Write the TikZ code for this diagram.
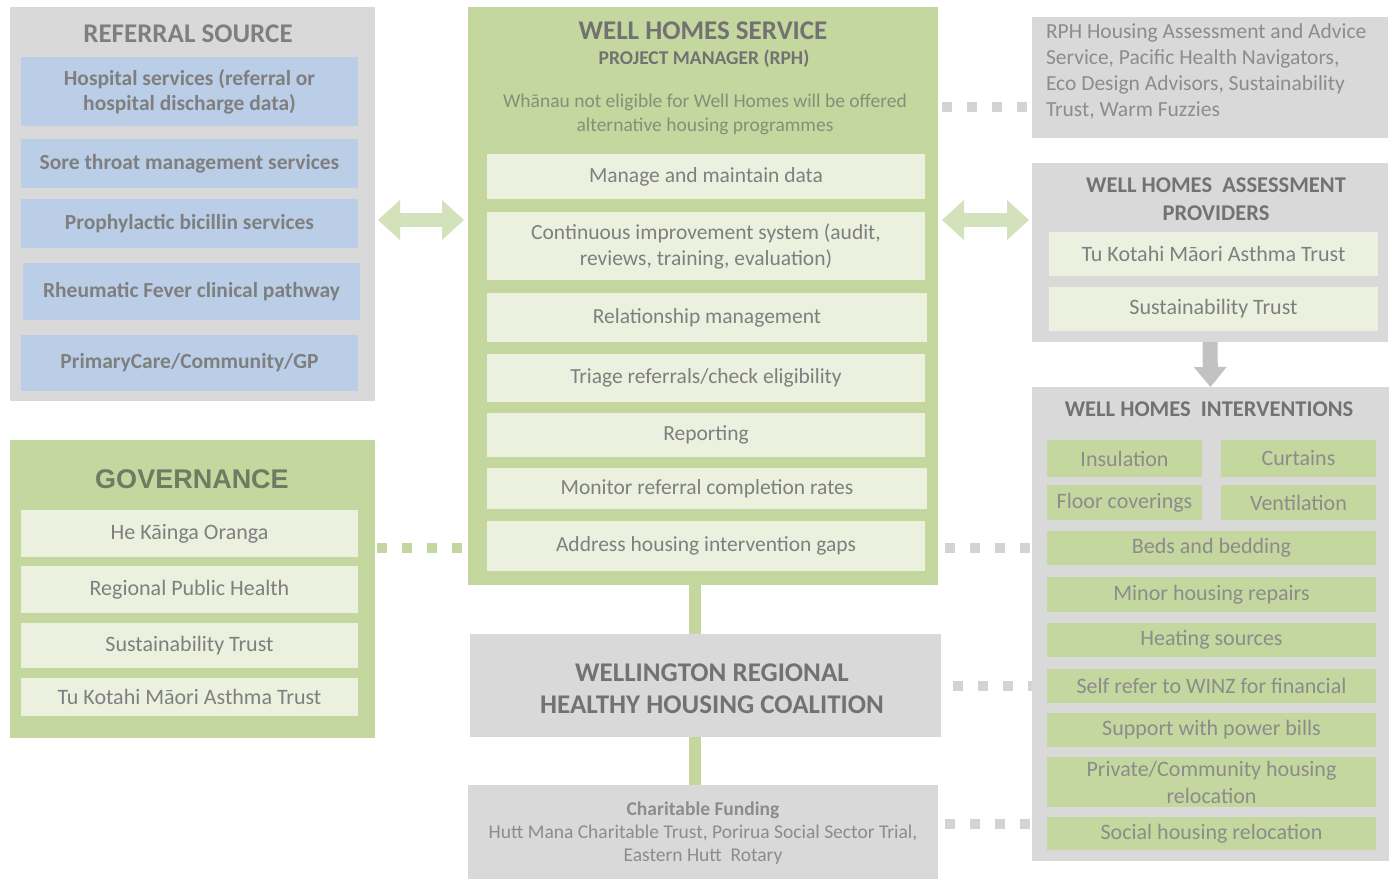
\documentclass[tikz,border=0pt]{standalone}
\usepackage{fontspec}
\setmainfont{Carlito}
\newfontfamily\arialfont{Liberation Sans}
\usetikzlibrary{arrows.meta}

\definecolor{boxgray}{HTML}{D9D9D9}
\definecolor{boxgreen}{HTML}{C4D79E}
\definecolor{palegreen}{HTML}{EBF1DE}
\definecolor{paleblue}{HTML}{BACEE7}
\definecolor{arrowgreen}{HTML}{D3E2BA}
\definecolor{arrowgray}{HTML}{C2C2C2}
\definecolor{txtgray}{HTML}{7F7F7F}
\definecolor{txtdark}{HTML}{727272}
\definecolor{txtlight}{HTML}{8C8C8C}
\definecolor{txtgreen}{HTML}{6F7B62}
\definecolor{dotgray}{HTML}{D3D3D3}

% place a rectangle by its top-left and bottom-right corners
\newcommand\placebox[7]{%
  \node[#2, anchor=north west, minimum width={(#5-#3)*1pt},
        minimum height={(#6-#4)*1pt}] (#1) at (#3,#4) {#7};}

\begin{document}
\begin{tikzpicture}[x=1pt, y=-1pt,
  base/.style={inner sep=0pt, outer sep=0pt, align=center, text=txtgray},
  graybox/.style={base, fill=boxgray},
  greenbox/.style={base, fill=boxgreen},
  paleitem/.style={base, fill=palegreen, font=\fontsize{21.5}{26}\selectfont},
  blueitem/.style={base, fill=paleblue, font=\bfseries\fontsize{21.5}{25}\selectfont},
  greenitem/.style={base, fill=boxgreen, text=txtlight, font=\fontsize{22}{27}\selectfont},
  bigtitle/.style={base, text=txtdark, font=\bfseries\fontsize{27}{32}\selectfont},
  subtitle/.style={base, text=txtdark, font=\bfseries\fontsize{22.5}{28}\selectfont},
  dblarrow/.style={draw=arrowgreen, line width=14pt,
    {Triangle[width=40pt,length=22pt,line width=0pt]}-{Triangle[width=40pt,length=22pt,line width=0pt]}},
  downarrow/.style={draw=arrowgray, line width=15pt,
    -{Triangle[width=33pt,length=20pt,line width=0pt]}},
  dotsq/.style={line width=10pt, dash pattern=on 10pt off 15pt},
  linkline/.style={draw=boxgreen, line width=12pt}
]
\useasboundingbox (0,0) rectangle (1394,878);

% ---------------- Referral source ----------------
\placebox{ref}{graybox}{10}{7}{375}{401}{}
\node[bigtitle, text=txtgray] (reftitle) at (188,34) {REFERRAL SOURCE};
\placebox{ref1}{blueitem}{21}{57}{358}{126}{Hospital services (referral or\\hospital discharge data)}
\placebox{ref2}{blueitem}{21}{139}{358}{188}{Sore throat management services}
\placebox{ref3}{blueitem}{21}{199}{358}{248}{Prophylactic bicillin services}
\placebox{ref4}{blueitem}{23}{263}{360}{320}{Rheumatic Fever clinical pathway}
\placebox{ref5}{blueitem}{21}{335}{358}{391}{PrimaryCare/Community/GP}

% ---------------- Well Homes service ----------------
\placebox{svc}{greenbox}{468}{7}{938}{585}{}
\node[bigtitle] (svctitle) at (703,31) {WELL HOMES SERVICE};
\node[base, text=txtdark, font=\bfseries\fontsize{19.5}{22}\selectfont] (pm) at (704,59) {PROJECT MANAGER (RPH)};
\node[base, text=txtgreen!85!white, font=\fontsize{19.5}{24}\selectfont] (whanau) at (705,114)
  {Whānau not eligible for Well Homes will be offered\\alternative housing programmes};
\placebox{s1}{paleitem}{487}{154}{925}{199}{Manage and maintain data}
\placebox{s2}{paleitem}{487}{212}{925}{280}{Continuous improvement system (audit,\\reviews, training, evaluation)}
\placebox{s3}{paleitem}{487}{293}{927}{342}{Relationship management}
\placebox{s4}{paleitem}{487}{354}{925}{402}{Triage referrals/check eligibility}
\placebox{s5}{paleitem}{487}{413}{925}{457}{Reporting}
\placebox{s6}{paleitem}{487}{468}{927}{509}{Monitor referral completion rates}
\placebox{s7}{paleitem}{487}{521}{925}{571}{Address housing intervention gaps}

% ---------------- Other housing services ----------------
\placebox{rph}{graybox}{1032}{17}{1388}{138}{}
\node[base, anchor=north west, align=left, text=txtlight,
      font=\fontsize{21.5}{26}\selectfont] (rphtext) at (1046,24)
  {RPH Housing Assessment and Advice\\Service, Pacific Health Navigators,\\Eco Design Advisors, Sustainability\\Trust, Warm Fuzzies};

% ---------------- Assessment providers ----------------
\placebox{assess}{graybox}{1032}{163}{1388}{342}{}
\node[subtitle] (assesstitle) at (1216,199) {WELL HOMES\ \ ASSESSMENT\\PROVIDERS};
\placebox{a1}{paleitem}{1049}{232}{1378}{276}{\fontsize{22}{26}\selectfont Tu Kotahi Māori Asthma Trust}
\placebox{a2}{paleitem}{1049}{287}{1378}{331}{\fontsize{22}{26}\selectfont Sustainability Trust}

% ---------------- Interventions ----------------
\placebox{interv}{graybox}{1032}{387}{1389}{861}{}
\node[subtitle] (intervtitle) at (1209,409) {WELL HOMES\ \ INTERVENTIONS};
\placebox{i1}{greenitem}{1047}{440}{1202}{477}{Insulation}
\placebox{i2}{greenitem}{1221}{440}{1376}{477}{Curtains}
\placebox{i3}{greenitem}{1047}{485}{1202}{520}{Floor coverings}
\placebox{i4}{greenitem}{1221}{485}{1376}{520}{Ventilation}
\placebox{i5}{greenitem}{1047}{531}{1376}{565}{Beds and bedding}
\placebox{i6}{greenitem}{1047}{577}{1376}{612}{Minor housing repairs}
\placebox{i7}{greenitem}{1047}{623}{1376}{657}{Heating sources}
\placebox{i8}{greenitem}{1047}{669}{1376}{703}{Self refer to WINZ for financial}
\placebox{i9}{greenitem}{1047}{713}{1376}{747}{Support with power bills}
\placebox{i10}{greenitem}{1047}{757}{1376}{807}{Private/Community housing\\relocation}
\placebox{i11}{greenitem}{1047}{817}{1376}{850}{Social housing relocation}

% ---------------- Governance ----------------
\placebox{gov}{greenbox}{10}{440}{375}{738}{}
\node[base, text=txtgreen, font=\arialfont\bfseries\fontsize{27}{32}\selectfont] (govtitle) at (192,479) {GOVERNANCE};
\placebox{g1}{paleitem}{21}{510}{358}{557}{\fontsize{22}{26}\selectfont He Kāinga Oranga}
\placebox{g2}{paleitem}{21}{566}{358}{613}{\fontsize{22}{26}\selectfont Regional Public Health}
\placebox{g3}{paleitem}{21}{623}{358}{668}{\fontsize{22}{26}\selectfont Sustainability Trust}
\placebox{g4}{paleitem}{21}{678}{358}{716}{\fontsize{22}{26}\selectfont Tu Kotahi Māori Asthma Trust}

% ---------------- Coalition and funding ----------------
\placebox{whhc}{graybox}{470}{634}{941}{737}{}
\node[bigtitle, font=\bfseries\fontsize{27}{32}\selectfont] (whhctext) at (712,689)
  {WELLINGTON REGIONAL\\HEALTHY HOUSING COALITION};
\placebox{fund}{graybox}{468}{785}{938}{880}{}
\node[base, text=txtlight, font=\fontsize{19.5}{23}\selectfont] (fundtext) at (703,833)
  {\textbf{Charitable Funding}\\Hutt Mana Charitable Trust, Porirua Social Sector Trial,\\Eastern Hutt\ \ Rotary};

% ---------------- Connectors ----------------
\draw[dblarrow] ([xshift=3pt]ref.east |- 0,220) -- ([xshift=-4pt]svc.west |- 0,220);
\draw[dblarrow] ([xshift=4pt]svc.east |- 0,220) -- ([xshift=-3pt]assess.west |- 0,220);
\draw[downarrow] (assess.south) -- (interv.north);

\draw[linkline] (svc.south -| 695,0) -- (whhc.north -| 695,0);
\draw[linkline] (whhc.south -| 695,0) -- (fund.north -| 695,0);

\draw[dotsq, draw=boxgreen] ([xshift=2pt]gov.east |- 0,548) -- (svc.west |- 0,548);
\draw[dotsq, draw=dotgray] ([xshift=-5pt]rph.west |- 0,107) -- (svc.east |- 0,107);
\draw[dotsq, draw=dotgray] ([xshift=-2pt]interv.west |- 0,548) -- (svc.east |- 0,548);
\draw[dotsq, draw=dotgray] ([xshift=12pt]whhc.east |- 0,686) -- (interv.west |- 0,686);
\draw[dotsq, draw=dotgray] ([xshift=-2pt]interv.west |- 0,824) -- (fund.east |- 0,824);
\end{tikzpicture}
\end{document}
